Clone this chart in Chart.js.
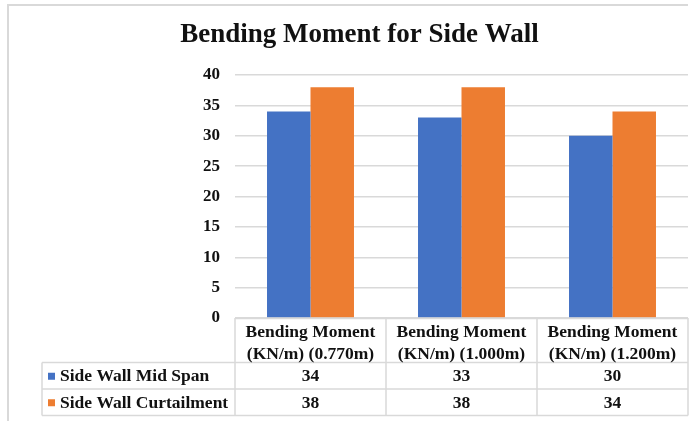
<!DOCTYPE html>
<html>
<head>
<meta charset="utf-8">
<script src="https://cdn.jsdelivr.net/npm/chart.js@4"></script>
<style>
  html, body { margin: 0; padding: 0; background: #ffffff; }
  #wrap { width: 698px; height: 421px; position: relative; }
</style>
</head>
<body>
<div id="wrap"><canvas id="c" width="698" height="421"></canvas></div>
<script>
const chartTitle = "Bending Moment for Side Wall";
const categories = [
  ["Bending Moment", "(KN/m) (0.770m)"],
  ["Bending Moment", "(KN/m) (1.000m)"],
  ["Bending Moment", "(KN/m) (1.200m)"]
];
const seriesNames = ["Side Wall Mid Span", "Side Wall Curtailment"];
const midSpan = [34, 33, 30];
const curtailment = [38, 38, 34];
const yTicks = [0, 5, 10, 15, 20, 25, 30, 35, 40];
const colors = ["#4472C4", "#ED7D31"];

const FONT = "'Liberation Serif', 'Times New Roman', serif";
const GRID = "#d9d9d9";

const tablePlugin = {
  id: "dataTable",
  beforeDraw(chart) {
    const ctx = chart.ctx;
    ctx.save();
    ctx.fillStyle = "#ffffff";
    ctx.fillRect(0, 0, chart.width, chart.height);
    ctx.strokeStyle = GRID;
    ctx.lineWidth = 2;
    ctx.beginPath();
    ctx.moveTo(8, chart.height + 2);
    ctx.lineTo(8, 5);
    ctx.lineTo(chart.chartArea.right, 5);
    ctx.stroke();
    ctx.restore();
  },
  afterDraw(chart) {
    const ctx = chart.ctx;
    const area = chart.chartArea;
    const xs = chart.scales.x;
    const n = chart.data.labels.length;
    const bounds = [area.left];
    for (let i = 0; i < n - 1; i++) {
      bounds.push((xs.getPixelForValue(i) + xs.getPixelForValue(i + 1)) / 2);
    }
    bounds.push(area.right);
    const top = area.bottom;
    const headerBottom = top + 44.5;
    const rowH = 26.5;
    const rows = chart.data.datasets.length;
    const tableLeft = 42;
    const tableBottom = headerBottom + rows * rowH;

    ctx.save();
    ctx.strokeStyle = GRID;
    ctx.lineWidth = 1.5;
    ctx.beginPath();
    ctx.moveTo(area.left, top + 0.5);
    ctx.lineTo(area.right, top + 0.5);
    for (let r = 0; r <= rows; r++) {
      const y = headerBottom + r * rowH;
      ctx.moveTo(tableLeft, y);
      ctx.lineTo(area.right, y);
    }
    ctx.moveTo(tableLeft, headerBottom);
    ctx.lineTo(tableLeft, tableBottom);
    bounds.forEach(b => {
      ctx.moveTo(b, top);
      ctx.lineTo(b, tableBottom);
    });
    ctx.stroke();

    ctx.fillStyle = "#111111";
    ctx.font = "bold 17.5px " + FONT;
    ctx.textAlign = "center";
    ctx.textBaseline = "middle";
    chart.data.labels.forEach((lab, i) => {
      const cx = (bounds[i] + bounds[i + 1]) / 2;
      lab.forEach((line, k) => {
        ctx.fillText(line, cx, top + 14 + k * 22);
      });
    });
    chart.data.datasets.forEach((ds, r) => {
      const cy = headerBottom + r * rowH + rowH / 2 + 1;
      ctx.fillStyle = ds.backgroundColor;
      ctx.fillRect(48, cy - 4, 7, 7);
      ctx.fillStyle = "#111111";
      ctx.textAlign = "left";
      ctx.fillText(ds.label, 60, cy);
      ctx.textAlign = "center";
      ds.data.forEach((v, i) => {
        const cx = (bounds[i] + bounds[i + 1]) / 2;
        ctx.fillText(String(v), cx, cy);
      });
    });
    ctx.restore();
  }
};

new Chart(document.getElementById("c"), {
  type: "bar",
  data: {
    labels: categories,
    datasets: [
      { label: seriesNames[0], data: midSpan, backgroundColor: colors[0] },
      { label: seriesNames[1], data: curtailment, backgroundColor: colors[1] }
    ]
  },
  options: {
    responsive: false,
    animation: false,
    devicePixelRatio: 1,
    layout: { padding: { left: 31, right: 10, top: 0, bottom: 103 } },
    datasets: { bar: { categoryPercentage: 0.576, barPercentage: 1.0 } },
    plugins: {
      legend: { display: false },
      tooltip: { enabled: false },
      title: {
        display: true,
        text: chartTitle,
        color: "#111111",
        font: { family: FONT, size: 27, weight: "bold", lineHeight: 1.2 },
        padding: { top: 19, bottom: 23.6 }
      }
    },
    scales: {
      x: { display: false },
      y: {
        min: 0,
        max: 40,
        afterFit(scale) { scale.width = 204; },
        afterBuildTicks(scale) { scale.ticks = yTicks.map(v => ({ value: v })); },
        border: { display: false },
        grid: { color: GRID, lineWidth: 1.5, drawTicks: false },
        ticks: {
          padding: 15,
          color: "#111111",
          font: { family: FONT, size: 17, weight: "bold" }
        }
      }
    }
  },
  plugins: [tablePlugin]
});
</script>
</body>
</html>
